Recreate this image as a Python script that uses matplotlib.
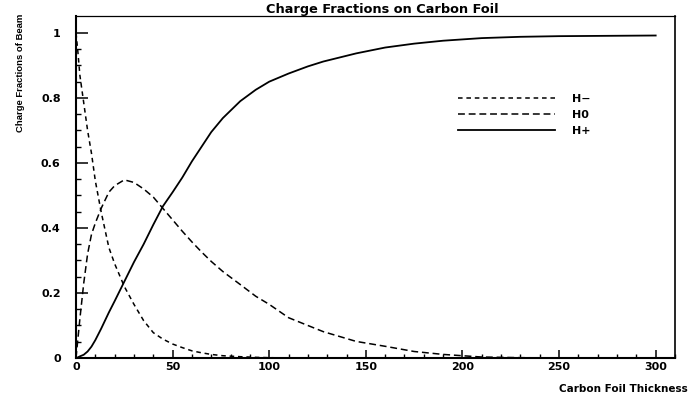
import numpy as np
import matplotlib
matplotlib.use("Agg")
import matplotlib.pyplot as plt

# values
thickness = [0, 1, 2, 4, 6, 8, 10, 13, 17, 20, 25, 30, 35, 40, 45, 50, 55, 60, 65, 70,
             76, 85, 93, 100, 110, 120, 128, 145, 160, 175, 190, 210, 230, 250, 275, 300]
h_minus = [1.0, 0.94, 0.87, 0.785, 0.70, 0.63, 0.545, 0.45, 0.34, 0.29, 0.22, 0.165,
           0.115, 0.078, 0.058, 0.043, 0.032, 0.022, 0.016, 0.011, 0.007, 0.004, 0.002,
           0.001, 0.0, 0.0, 0.0, 0.0, 0.0, 0.0, 0.0, 0.0, 0.0, 0.0, 0.0, 0.0]
h_zero = [0.0, 0.06, 0.12, 0.23, 0.32, 0.38, 0.415, 0.46, 0.51, 0.53, 0.548, 0.54, 0.52,
          0.495, 0.46, 0.425, 0.39, 0.357, 0.326, 0.297, 0.266, 0.226, 0.19, 0.165,
          0.124, 0.1, 0.081, 0.051, 0.036, 0.02, 0.011, 0.003, 0.001, 0.0, 0.0, 0.0]
h_plus = [0.0, 0.002, 0.005, 0.01, 0.02, 0.035, 0.055, 0.09, 0.14, 0.175, 0.235, 0.295,
          0.35, 0.41, 0.467, 0.51, 0.555, 0.605, 0.65, 0.695, 0.738, 0.79, 0.825, 0.85,
          0.875, 0.897, 0.912, 0.937, 0.955, 0.967, 0.976, 0.984, 0.988, 0.99, 0.991, 0.992]
labels = ["H\u2212", "H0", "H+"]

fig = plt.figure(figsize=(6.94, 3.95), dpi=100)
ax = fig.add_axes([76 / 694, 37 / 395, 599 / 694, 342 / 395])

lw = 1.1
ax.plot(thickness, h_minus, color="black", lw=lw, linestyle=(0, (3, 2.5)), label=labels[0])
ax.plot(thickness, h_zero, color="black", lw=lw, linestyle=(0, (4.5, 2.5)), label=labels[1])
ax.plot(thickness, h_plus, color="black", lw=1.3, linestyle="-", label=labels[2])

ax.set_xlim(0, 310)
ax.set_ylim(0, 1.052)
ax.set_xticks(np.arange(0, 301, 50))
ax.set_xticks(np.arange(0, 311, 10), minor=True)
ax.set_yticks([0, 0.2, 0.4, 0.6, 0.8, 1.0])
ax.set_yticks(np.arange(0, 1.01, 0.05), minor=True)
ax.set_yticklabels(["0", "0.2", "0.4", "0.6", "0.8", "1"])

ax.tick_params(axis="x", which="major", direction="in", length=5.8, width=1.1, pad=3,
               labelsize=8)
ax.tick_params(axis="x", which="minor", direction="in", length=2.9, width=1.0)
ax.tick_params(axis="y", which="major", direction="in", length=8.6, width=1.1, pad=11,
               labelsize=8)
ax.tick_params(axis="y", which="minor", direction="in", length=3.6, width=1.0)
for lab in ax.get_xticklabels() + ax.get_yticklabels():
    lab.set_fontweight("bold")

for side in ["left", "bottom"]:
    ax.spines[side].set_linewidth(1.5)
ax.spines["top"].set_linewidth(0.9)
ax.spines["right"].set_linewidth(1.2)

ax.set_title("Charge Fractions on Carbon Foil", fontsize=9.3, fontweight="bold", pad=2,
             x=0.512)
ax.set_xlabel("Carbon Foil Thickness", fontsize=7.5, fontweight="bold", ha="right")
ax.xaxis.set_label_coords(1.022, -0.075)
ax.set_ylabel("Charge Fractions of Beam", fontsize=6.8, fontfamily="Liberation Sans",
              fontweight="bold", va="center")
ax.yaxis.set_label_coords(-0.093, 0.835)

leg = ax.legend(loc="upper left", bbox_to_anchor=(458 / 694, (395 - 94) / 395),
                bbox_transform=fig.transFigure, frameon=False, fontsize=8,
                handlelength=8.7, handletextpad=1.6, labelspacing=0.55,
                borderpad=0, borderaxespad=0)
for t in leg.get_texts():
    t.set_fontweight("bold")

fig.savefig("out.png", dpi=100)
